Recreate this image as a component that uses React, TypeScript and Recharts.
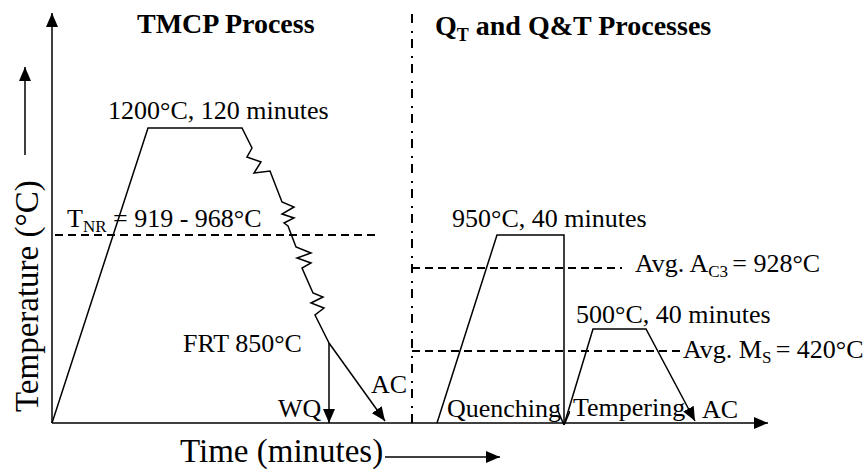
import { LineChart, Line, XAxis, YAxis, ReferenceDot } from "recharts";

// schematic units: t = time from the axis origin, level = height above the time axis
const yAxisPts = [{ t: 0, level: 0 }, { t: 0, level: 410 }];
const xAxisPts = [{ t: 0, level: 0 }, { t: 716, level: 0 }];
const tempArrowPts = [{ t: -27, level: 268 }, { t: -27, level: 356 }];
const timeArrowPts = [{ t: 333, level: -34 }, { t: 448, level: -34 }];

// TMCP: reheat, hold at 1200°C, rolling passes (springs), finish at FRT
const tmcpHeat = [
  { t: 0, level: 0 }, { t: 96, level: 295 }, { t: 190, level: 295 },
  { t: 200, level: 275 }, { t: 195, level: 266 }, { t: 209, level: 261 }, { t: 202, level: 250 }, { t: 218, level: 252 },
  { t: 230, level: 221 }, { t: 242, level: 216 }, { t: 230, level: 209 }, { t: 242, level: 205 }, { t: 232, level: 200 }, { t: 236, level: 197 },
  { t: 244, level: 176 }, { t: 259, level: 170 }, { t: 245, level: 165 }, { t: 259, level: 160 }, { t: 250, level: 155 },
  { t: 261, level: 130 }, { t: 271, level: 126 }, { t: 259, level: 120 }, { t: 272, level: 115 }, { t: 263, level: 108 },
  { t: 277, level: 80 },
];
const tmcpWQ = [{ t: 277, level: 80 }, { t: 277, level: 0 }];
const tmcpAC = [{ t: 277, level: 80 }, { t: 333, level: 2 }];
const tnrLine = [{ t: 3, level: 188 }, { t: 326, level: 188 }];

const divider = [{ t: 360, level: 0 }, { t: 360, level: 410 }];

// Q&T: austenitise at 950°C, quench, temper at 500°C, air cool
const quench = [{ t: 385, level: 0 }, { t: 445, level: 188 }, { t: 512, level: 188 }, { t: 512, level: -2 }];
const temper = [{ t: 512, level: -2 }, { t: 541, level: 94 }, { t: 594, level: 94 }, { t: 643, level: 2 }];
const ac3Line = [{ t: 360, level: 155 }, { t: 570, level: 155 }];
const msLine = [{ t: 360, level: 72 }, { t: 631, level: 72 }];

type Part = { s: string; sub?: boolean };
type Note = { parts: Part[]; t: number; level: number; size: number; bold?: boolean; rotate?: boolean };

const notes: Note[] = [
  { parts: [{ s: "TMCP Process" }], t: 85, level: 390, size: 28, bold: true },
  { parts: [{ s: "Q" }, { s: "T", sub: true }, { s: " and Q&T Processes" }], t: 383, level: 388, size: 28, bold: true },
  { parts: [{ s: "1200°C, 120 minutes" }], t: 56, level: 304, size: 26 },
  { parts: [{ s: "T" }, { s: "NR", sub: true }, { s: " = 919 - 968°C" }], t: 15, level: 196, size: 26 },
  { parts: [{ s: "950°C, 40 minutes" }], t: 400, level: 196, size: 26 },
  { parts: [{ s: "Avg. A" }, { s: "C3 ", sub: true }, { s: "= 928°C" }], t: 583, level: 151, size: 26 },
  { parts: [{ s: "500°C, 40 minutes" }], t: 524, level: 100, size: 26 },
  { parts: [{ s: "Avg. M" }, { s: "S ", sub: true }, { s: "= 420°C" }], t: 631, level: 65, size: 26 },
  { parts: [{ s: "FRT 850°C" }], t: 131, level: 71, size: 26 },
  { parts: [{ s: "WQ" }], t: 226, level: 6, size: 26 },
  { parts: [{ s: "AC" }], t: 319, level: 30, size: 26 },
  { parts: [{ s: "Quenching" }], t: 395, level: 6, size: 26 },
  { parts: [{ s: "Tempering" }], t: 521, level: 7, size: 26 },
  { parts: [{ s: "AC" }], t: 650, level: 5, size: 26 },
  { parts: [{ s: "Time (minutes)" }], t: 128, level: -39, size: 33 },
  { parts: [{ s: "Temperature (°C)" }], t: -14, level: 11, size: 33, rotate: true },
];

const FONT = '"Liberation Serif", "Times New Roman", serif';

function NoteText({ cx, cy, note }: { cx: number; cy: number; note: Note }) {
  const subSize = Math.round(note.size * 0.65);
  const shift = Math.round(note.size * 0.2);
  return (
    <text
      x={cx}
      y={cy}
      fontSize={note.size}
      fontFamily={FONT}
      fontWeight={note.bold ? "bold" : "normal"}
      fill="#000"
      style={{ whiteSpace: "pre" }}
      transform={note.rotate ? `rotate(-90 ${cx} ${cy})` : undefined}
    >
      {note.parts.map((p, i) =>
        p.sub ? (
          <tspan key={i} fontSize={subSize} dy={shift}>{p.s}</tspan>
        ) : (
          <tspan key={i} dy={i > 0 && note.parts[i - 1].sub ? -shift : 0}>{p.s}</tspan>
        )
      )}
    </text>
  );
}

const lineProps = {
  dataKey: "level",
  stroke: "#000",
  strokeWidth: 1.5,
  dot: false,
  activeDot: false,
  isAnimationActive: false,
  type: "linear" as const,
};

export default function App() {
  return (
    <div style={{ position: "absolute", left: 0, top: 0, width: 864, height: 470, background: "#fff" }}>
      <LineChart width={864} height={470} margin={{ top: 0, right: 0, bottom: 0, left: 0 }}>
        <defs>
          <marker id="arrowFill" viewBox="0 0 14 12" refX="14" refY="6" markerWidth="14" markerHeight="12" markerUnits="userSpaceOnUse" orient="auto">
            <path d="M0,0 L14,6 L0,12 z" fill="#000" />
          </marker>
          <marker id="arrowOpen" viewBox="0 0 14 12" refX="14" refY="6" markerWidth="14" markerHeight="12" markerUnits="userSpaceOnUse" orient="auto">
            <path d="M0,0 L14,6 L0,12" fill="none" stroke="#000" strokeWidth="1.5" />
          </marker>
        </defs>
        <XAxis type="number" dataKey="t" domain={[-52, 812]} hide allowDataOverflow />
        <YAxis type="number" dataKey="level" domain={[-47, 423]} hide allowDataOverflow />

        <Line {...lineProps} data={divider} strokeDasharray="9 6 2 8" strokeWidth={2} />
        <Line {...lineProps} data={tnrLine} strokeDasharray="8 5" strokeWidth={2} />
        <Line {...lineProps} data={ac3Line} strokeDasharray="8 5" strokeWidth={2} />
        <Line {...lineProps} data={msLine} strokeDasharray="8 5" strokeWidth={2} />

        <Line {...lineProps} data={yAxisPts} markerEnd="url(#arrowFill)" />
        <Line {...lineProps} data={xAxisPts} markerEnd="url(#arrowFill)" />
        <Line {...lineProps} data={tempArrowPts} markerEnd="url(#arrowFill)" />
        <Line {...lineProps} data={timeArrowPts} markerEnd="url(#arrowFill)" />

        <Line {...lineProps} data={tmcpHeat} />
        <Line {...lineProps} data={tmcpWQ} markerEnd="url(#arrowFill)" />
        <Line {...lineProps} data={tmcpAC} markerEnd="url(#arrowFill)" />
        <Line {...lineProps} data={quench} markerEnd="url(#arrowOpen)" />
        <Line {...lineProps} data={temper} markerEnd="url(#arrowFill)" />

        {notes.map((n, i) => (
          <ReferenceDot
            key={i}
            x={n.t}
            y={n.level}
            r={0}
            ifOverflow="visible"
            shape={(p: any) => <NoteText cx={p.cx} cy={p.cy} note={n} />}
          />
        ))}
      </LineChart>
    </div>
  );
}
